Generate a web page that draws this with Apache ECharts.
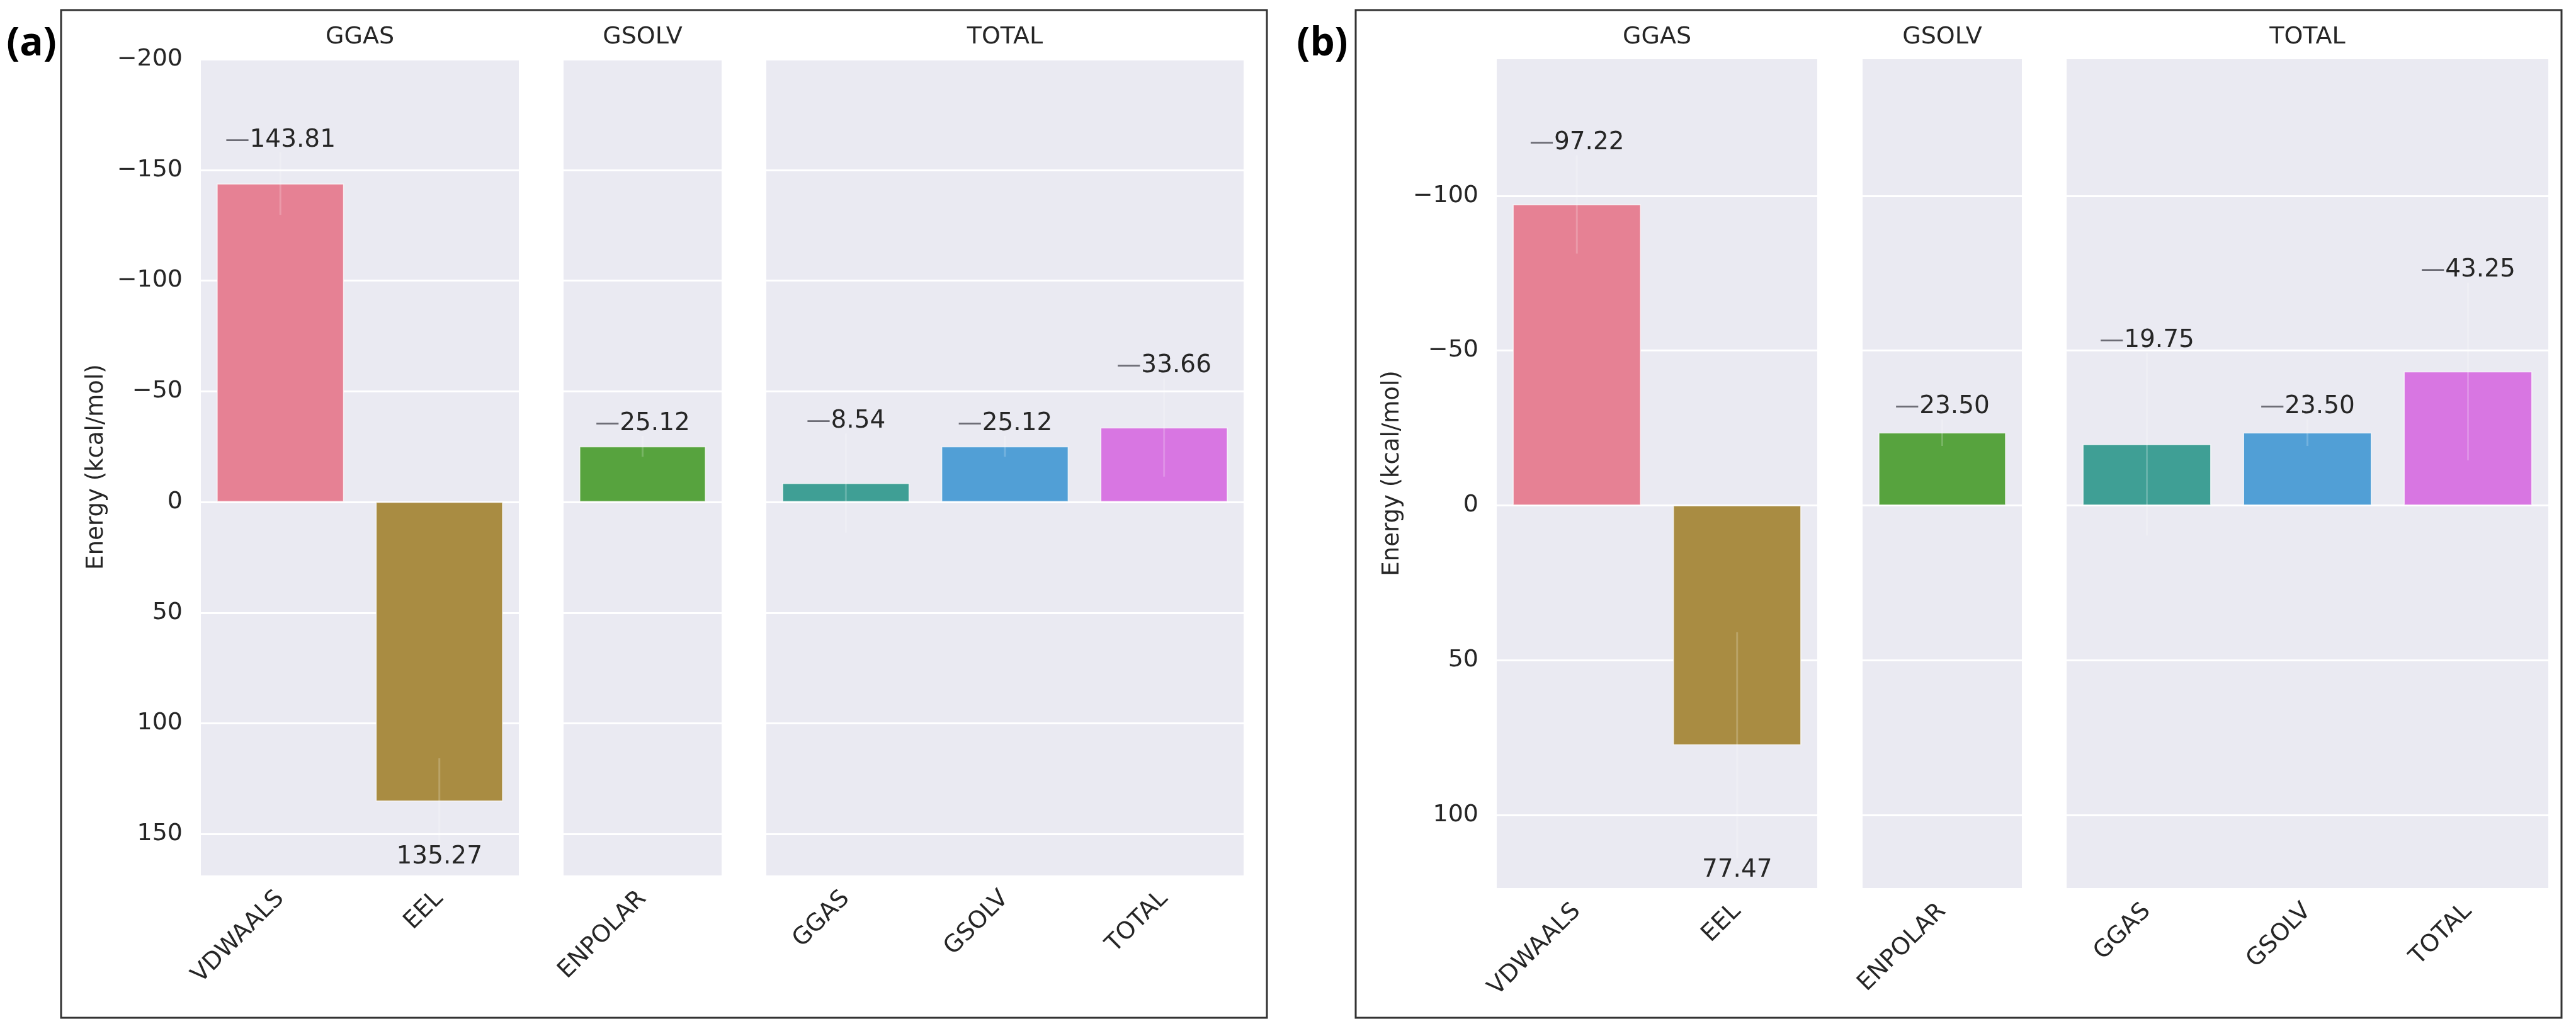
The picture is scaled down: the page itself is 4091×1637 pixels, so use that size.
<!DOCTYPE html>
<html>
<head>
<meta charset="utf-8">
<script src="https://cdn.jsdelivr.net/npm/echarts@6.0.0/dist/echarts.min.js"></script>
<style>
  html, body { margin: 0; padding: 0; background: #fff; }
  #chart { width: 4091px; height: 1637px; }
</style>
</head>
<body>
<div id="chart"></div>
<script>
// energy terms, the facet each one belongs to, and the facet order
const terms = ['VDWAALS', 'EEL', 'ENPOLAR', 'GGAS', 'GSOLV', 'TOTAL'];
const facetOf = ['GGAS', 'GGAS', 'GSOLV', 'TOTAL', 'TOTAL', 'TOTAL'];
const facets = ['GGAS', 'GSOLV', 'TOTAL'];

// panel (a): mean energies and their spread (kcal/mol)
const energyA = [-143.81, 135.27, -25.12, -8.54, -25.12, -33.66];
const spreadA = [14.1, 19.5, 4.7, 22.4, 4.7, 22.2];

// panel (b)
const energyB = [-97.22, 77.47, -23.50, -19.75, -23.50, -43.25];
const spreadB = [15.9, 36.5, 4.3, 29.5, 4.3, 28.7];

const palette = ['#e68194', '#a98c42', '#57a33e', '#3f9f95', '#519fd6', '#d876e2'];
const FONT = 'DejaVu Sans';
const INK = '#262626';

// page layout of the two panels (frame box, plot rows, facet columns)
const panels = [
  { tag: '(a)', tagX: 50, frame: [97, 16, 2012, 1616], top: 92, bottom: 1391,
    cols: [[319, 824], [895, 1146], [1217, 1975]], yMin: -200.6, yMax: 169,
    energy: energyA, spread: spreadA },
  { tag: '(b)', tagX: 2100, frame: [2153, 16, 4068, 1616], top: 92, bottom: 1411,
    cols: [[2377, 2886], [2958, 3211], [3282, 4047]], yMin: -144.5, yMax: 123.8,
    energy: energyB, spread: spreadB }
];

const fmtTick = v => (v < 0 ? '\u2212' + Math.abs(v) : String(v));

// faint error bar plus the value label at its outer end
function renderErr(params, api) {
  const c = api.value(0), v = api.value(1), s = api.value(2);
  const hi = api.coord([c, v - s]);
  const lo = api.coord([c, v + s]);
  const end = v < 0 ? hi : lo;
  const txt = (v < 0 ? '{d|\u2014}' : '') + '{n|' + Math.abs(v).toFixed(2) + '}';
  return {
    type: 'group',
    children: [
      { type: 'line', shape: { x1: hi[0], y1: hi[1], x2: lo[0], y2: lo[1] },
        style: { stroke: 'rgba(255,255,255,0.2)', lineWidth: 3 } },
      { type: 'text', z2: 10,
        style: {
          text: txt, x: end[0], y: end[1], align: 'center',
          verticalAlign: v < 0 ? 'bottom' : 'top',
          fontSize: 39, fontFamily: FONT,
          rich: {
            d: { fill: '#6c6c75', fontSize: 39, fontFamily: FONT },
            n: { fill: INK, fontSize: 39, fontFamily: FONT }
          }
        } }
    ]
  };
}

const grid = [], xAxis = [], yAxis = [], series = [], graphic = [];

panels.forEach(p => {
  const [fx1, fy1, fx2, fy2] = p.frame;
  graphic.push({ type: 'rect', shape: { x: fx1, y: fy1, width: fx2 - fx1, height: fy2 - fy1 },
    style: { fill: 'none', stroke: '#333', lineWidth: 3 }, z: 100 });
  graphic.push({ type: 'text', x: p.tagX, y: 70,
    style: { text: p.tag, font: 'bold 62px "Open Sans"', fill: '#000',
      align: 'center', verticalAlign: 'middle', textAlign: 'center', textVerticalAlign: 'middle' } });

  facets.forEach((f, k) => {
    const idx = terms.map((t, i) => i).filter(i => facetOf[i] === f);
    const gi = grid.length;
    const [cx1, cx2] = p.cols[k];
    grid.push({ left: cx1, width: cx2 - cx1, top: p.top, height: p.bottom - p.top,
      show: true, backgroundColor: '#eaeaf2', borderWidth: 0 });
    graphic.push({ type: 'text', x: (cx1 + cx2) / 2, y: 59,
      style: { text: f, font: '38px "DejaVu Sans"', fill: INK,
        align: 'center', verticalAlign: 'middle', textAlign: 'center', textVerticalAlign: 'middle' } });

    xAxis.push({
      type: 'category', gridIndex: gi, data: idx.map(i => terms[i]),
      axisLine: { show: false }, axisTick: { show: false },
      axisLabel: { rotate: 45, margin: 30, interval: 0, fontSize: 38, color: INK, fontFamily: FONT }
    });
    yAxis.push({
      type: 'value', gridIndex: gi, inverse: true,
      min: p.yMin, max: p.yMax, minInterval: 50, maxInterval: 50, splitNumber: 6,
      axisLine: { show: false }, axisTick: { show: false },
      axisLabel: { show: k === 0, margin: 29, fontSize: 38, color: INK, fontFamily: FONT,
        showMinLabel: false, showMaxLabel: false, formatter: fmtTick },
      splitLine: { lineStyle: { color: '#ffffff', width: 3 } },
      name: k === 0 ? 'Energy (kcal/mol)' : '',
      nameLocation: 'middle', nameGap: 147, nameRotate: 90,
      nameTextStyle: { fontSize: 37, color: INK, fontFamily: FONT }
    });
    series.push({
      type: 'bar', xAxisIndex: gi, yAxisIndex: gi, barWidth: '80%',
      data: idx.map(i => ({ value: p.energy[i], itemStyle: { color: palette[i] } })),
      itemStyle: { borderColor: 'rgba(255,255,255,0.7)', borderWidth: 1.5 }
    });
    series.push({
      type: 'custom', xAxisIndex: gi, yAxisIndex: gi, clip: false, z: 5,
      encode: { x: 0, y: 1 },
      data: idx.map((i, j) => [j, p.energy[i], p.spread[i]]),
      renderItem: renderErr
    });
  });
});

const chart = echarts.init(document.getElementById('chart'), null, { renderer: 'canvas' });
chart.setOption({
  animation: false,
  backgroundColor: '#ffffff',
  grid, xAxis, yAxis, series, graphic
});
</script>
</body>
</html>
